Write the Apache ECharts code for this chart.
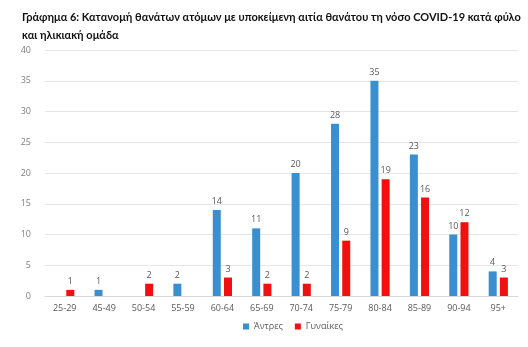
<!DOCTYPE html>
<html><head><meta charset="utf-8">
<script src="https://cdn.jsdelivr.net/npm/echarts@6/dist/echarts.min.js"></script>
<style>html,body{margin:0;padding:0;background:#fff}#c{width:528px;height:347px}</style>
</head><body><div id="c"></div>
<script>
const categories = ['25-29','45-49','50-54','55-59','60-64','65-69','70-74','75-79','80-84','85-89','90-94','95+'];
const men = [null,1,null,2,14,11,20,28,35,23,10,4];
const women = [1,null,2,null,3,2,2,9,19,16,12,3];
const yTicks = [0,5,10,15,20,25,30,35,40];
const chart = echarts.init(document.getElementById('c'));
const lbl = {show:true, position:'top', color:'#595959', fontSize:9, distance:4, fontFamily:'Open Sans'};
chart.setOption({
  animation:false,
  title:{text:'Γράφημα 6: Κατανομή θανάτων ατόμων με υποκείμενη αιτία θανάτου τη νόσο COVID-19 κατά φύλο\nκαι ηλικιακή ομάδα',
    left:17, top:3, textStyle:{fontFamily:'Lato', fontWeight:'bold', fontSize:11, color:'#111', lineHeight:18}},
  legend:{bottom:11, left:238, itemWidth:6, itemHeight:6, itemGap:12, icon:'rect',
    textStyle:{fontFamily:'Open Sans', fontSize:9, color:'#595959'}, data:['Άντρες','Γυναίκες']},
  grid:{left:45, right:10, top:50, bottom:51},
  xAxis:{type:'category', data:categories,
    axisLine:{lineStyle:{color:'#d9d9d9'}}, axisTick:{show:false},
    axisLabel:{color:'#595959', fontSize:9, fontFamily:'Open Sans', margin:8}},
  yAxis:{type:'value', min:0, max:40, interval:5,
    axisLabel:{color:'#7f7f7f', fontSize:9, fontFamily:'Open Sans', margin:14},
    splitLine:{lineStyle:{color:'#e6e6e6'}}, axisLine:{show:false}},
  series:[
    {name:'Άντρες', type:'bar', data:men, barWidth:8, barGap:'40%', itemStyle:{color:'#3a8fd0'}, label:lbl},
    {name:'Γυναίκες', type:'bar', data:women, barWidth:8, itemStyle:{color:'#f20f0f'}, label:lbl}
  ]
});
</script></body></html>
